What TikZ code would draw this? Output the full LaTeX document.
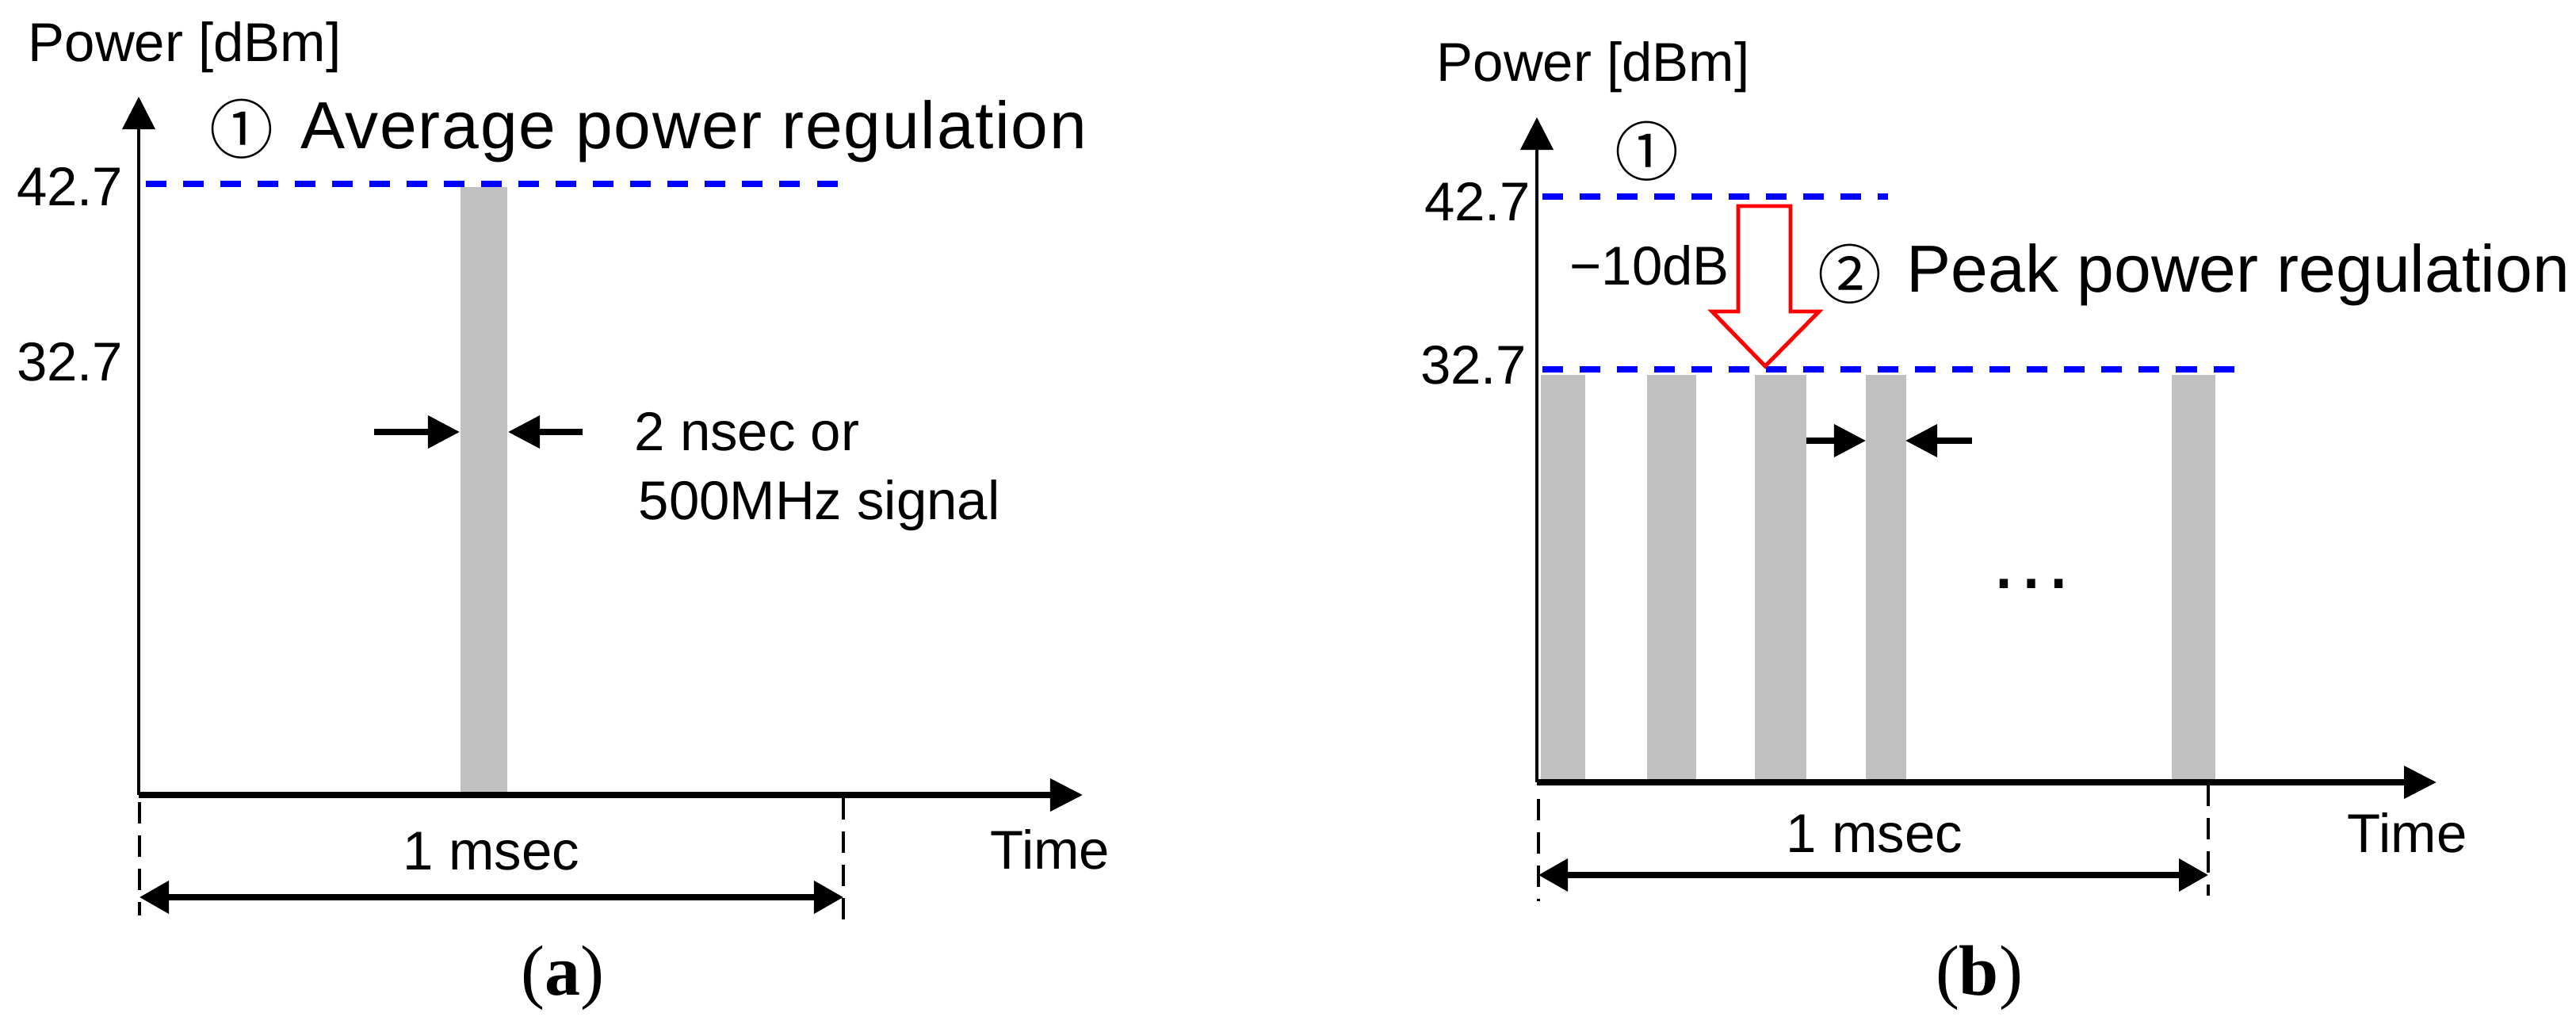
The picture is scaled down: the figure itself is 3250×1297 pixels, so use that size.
\documentclass[tikz,border=0pt]{standalone}
\usepackage{fontspec}
\setmainfont{Liberation Sans}
\newfontfamily\serifA{Liberation Serif}
\newfontfamily\circfont{Noto Sans CJK KR}
\usetikzlibrary{arrows.meta}
\definecolor{bargray}{HTML}{C0C0C0}
\definecolor{lvlblue}{HTML}{0000FF}
\definecolor{arrred}{HTML}{FF0000}
\tikzset{
  lab/.style={inner sep=0pt, font=\fontsize{19.6}{23}\selectfont},
  ttl/.style={inner sep=0pt, font=\fontsize{23.9}{28}\selectfont},
  circ/.style={inner sep=0pt, font=\circfont\fontsize{23}{27}\selectfont},
  subcap/.style={inner sep=0pt, font=\serifA\fontsize{25.6}{30}\selectfont},
  axisy/.style={line width=1.1pt, -{Triangle[length=0.41cm,width=0.41cm]}},
  axisx/.style={line width=2pt, -{Triangle[length=0.41cm,width=0.40cm]}},
  level/.style={draw=lvlblue, line width=2pt, dash pattern=on 0.26cm off 0.21cm},
  guide/.style={line width=1pt, dash pattern=on 0.27cm off 0.15cm},
  span/.style={line width=2pt, {Triangle[length=0.37cm,width=0.40cm]}-{Triangle[length=0.37cm,width=0.40cm]}},
  pinch/.style={line width=2pt, -{Triangle[length=0.40cm,width=0.40cm]}},
  bar/.style={fill=bargray, draw=none},
  blockarrow/.style={draw=arrred, line width=1.4pt, fill=white, line join=miter}
}
\begin{document}
\begin{tikzpicture}[x=0.01cm,y=-0.01cm]
\useasboundingbox (0,0) rectangle (3250,1297);

% ---------------- panel (a) ----------------
\fill[bar] (581,236) rectangle (640,1003);
\coordinate (ao) at (175,1003);
\coordinate (ayt) at (175,122);
\coordinate (axt) at (1366,1003);
\draw[axisy] (ao) -- (ayt);
\draw[axisx] (ao) -- (axt);
\coordinate (alv1) at (184,232);
\coordinate (alv2) at (1064,232);
\draw[level] (alv1) -- (alv2);

\node[lab, anchor=base west] (apow) at (35,78) {Power [dBm]};
\node[circ] (acirc1) at (305,163) {①};
\node[ttl, anchor=base west] (attl) at (379,188) {\addfontfeatures{LetterSpace=2}Average power regulation};
\node[lab, anchor=base east] (a427) at (156,260) {42.7};
\node[lab, anchor=base east] (a327) at (156,480) {32.7};

\coordinate (apl1) at (472,545);
\coordinate (apl2) at (580,545);
\coordinate (apr1) at (735,545);
\coordinate (apr2) at (641,545);
\draw[pinch] (apl1) -- (apl2);
\draw[pinch] (apr1) -- (apr2);
\node[lab, anchor=base west] (ans1) at (800,568) {2 nsec or};
\node[lab, anchor=base west] (ans2) at (805,655) {500MHz signal};

\coordinate (ag1a) at (176,1012);
\coordinate (ag1b) at (176,1155);
\coordinate (ag2a) at (1064,1007);
\coordinate (ag2b) at (1064,1167);
\draw[guide] (ag1a) -- (ag1b);
\draw[guide] (ag2a) -- (ag2b);
\coordinate (asp1) at (176,1132);
\coordinate (asp2) at (1064,1132);
\draw[span] (asp1) -- (asp2);
\node[lab, anchor=base] (ams) at (620,1097) {1 msec};
\node[lab, anchor=base west] (atime) at (1249,1096) {Time};
\node[subcap, anchor=base] (acap) at (710,1255) {(\textbf{a})};

% ---------------- panel (b) ----------------
\fill[bar] (1944,473) rectangle (2000,987);
\fill[bar] (2078,473) rectangle (2140,987);
\fill[bar] (2214,473) rectangle (2279,987);
\fill[bar] (2354,473) rectangle (2405,987);
\fill[bar] (2740,473) rectangle (2795,987);
\coordinate (bo) at (1939,987);
\coordinate (byt) at (1939,148);
\coordinate (bxt) at (3074,987);
\draw[axisy] (bo) -- (byt);
\draw[axisx] (bo) -- (bxt);
\coordinate (blv1a) at (1946,248);
\coordinate (blv1b) at (2382,248);
\coordinate (blv2a) at (1946,466);
\coordinate (blv2b) at (2831,466);
\draw[level] (blv1a) -- (blv1b);
\draw[level] (blv2a) -- (blv2b);

\draw[blockarrow] (2193,260) -- (2259,260) -- (2259,393) -- (2295,393)
  -- (2227,462) -- (2160,393) -- (2193,393) -- cycle;

\node[lab, anchor=base west] (bpow) at (1812,103) {Power [dBm]};
\node[circ] (bcirc1) at (2078,191) {①};
\node[lab, anchor=base east] (b427) at (1932,278) {42.7};
\node[lab, anchor=base east] (b327) at (1927,485) {32.7};
\node[lab, anchor=base west] (bdb) at (1980,360) {−10dB};
\node[circ] (bcirc2) at (2334,346) {②};
\node[ttl, anchor=base west] (bttl) at (2405,368) {Peak power regulation};

\coordinate (bpl1) at (2279,556);
\coordinate (bpl2) at (2354,556);
\coordinate (bpr1) at (2488,556);
\coordinate (bpr2) at (2404,556);
\draw[pinch] (bpl1) -- (bpl2);
\draw[pinch] (bpr1) -- (bpr2);
\node[inner sep=0pt, font=\fontsize{31}{36}\selectfont, anchor=base] (bdots) at (2563,742) {…};

\coordinate (bg1a) at (1941,1008);
\coordinate (bg1b) at (1941,1137);
\coordinate (bg2a) at (2786,990);
\coordinate (bg2b) at (2786,1130);
\draw[guide] (bg1a) -- (bg1b);
\draw[guide] (bg2a) -- (bg2b);
\coordinate (bsp1) at (1941,1104);
\coordinate (bsp2) at (2786,1104);
\draw[span] (bsp1) -- (bsp2);
\node[lab, anchor=base] (bms) at (2365,1075) {1 msec};
\node[lab, anchor=base west] (btime) at (2961,1075) {Time};
\node[subcap, anchor=base] (bcap) at (2497,1255) {(\textbf{b})};
\end{tikzpicture}
\end{document}
